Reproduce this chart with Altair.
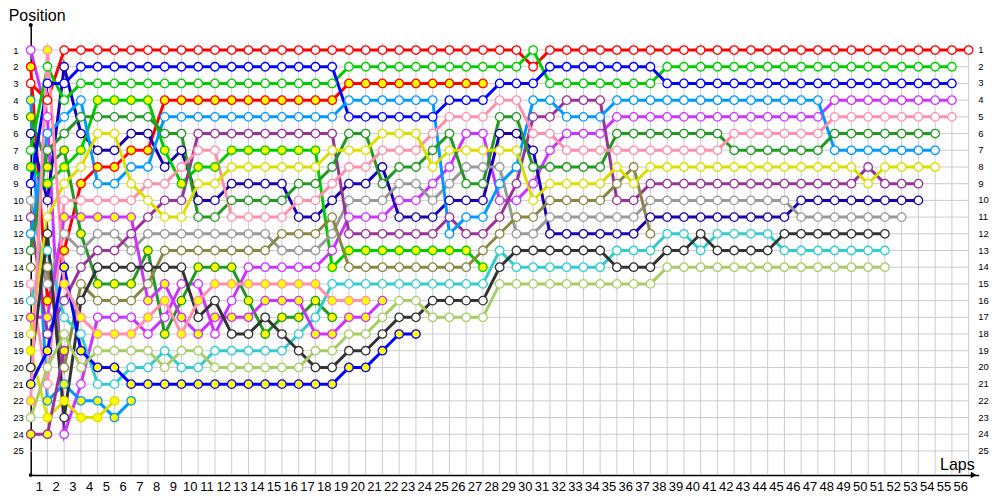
import altair as alt
import pandas as pd

# ---- drivers: id, line colour, marker fill ----
driver_ids = ["A", "B", "C", "D", "E", "F", "G", "H", "I", "J", "K", "L",
              "M", "N", "O", "P", "Q", "R", "S", "T", "U", "V", "W", "X"]
line_colors = ["#CC33FF", "#FF0000", "#FF0000", "#0099FF", "#229922", "#1A00B0",
               "#00CC00", "#00CC00", "#0000FF", "#999999", "#993399", "#0099FF",
               "#229922", "#888844", "#FF8FAB", "#33CCCC", "#CC33FF", "#DDDD00",
               "#DDDD00", "#333333", "#0000FF", "#FF8FAB", "#A8CC66", "#993399"]
marker_fill = ["w", "y", "w", "y", "y", "w", "w", "y", "w", "w", "w", "w",
               "w", "w", "w", "w", "y", "w", "y", "w", "y", "y", "w", "y"]

# ---- positions per lap (lap 0 = grid) ----
pos_A = [1, 5, 24, 21, 17, 17, 17, 18, 17, 15,
         15, 18, 16, 14, 14, 14, 14, 14, 13, 11,
         11, 11, 10, 10, 9, 8, 6, 6, 10, 10,
         9, 7, 6, 6, 6, 5, 5, 5, 5, 5,
         5, 5, 5, 5, 5, 5, 5, 5, 4, 4,
         4, 4, 4, 4, 4, 4]
pos_B = [2, 16, 13, 9, 8, 8, 7, 7, 4, 4,
         4, 4, 4, 4, 4, 4, 4, 4, 4, 3,
         3, 3, 3, 3, 3, 3, 3, 3]
pos_C = [3, 4] + [1] * 28 + [2] + [1] * 26
pos_D = [4, 22, 21, 22, 22, 23, 22]
pos_E = [5, 8, 7, 12, 15, 15, 15, 13, 18, 16,
         14, 14, 14, 16, 18, 17, 17, 16, 17]
pos_F = [6, 10, 2, 6, 7, 7, 6, 6, 8, 7,
         10, 10, 9, 9, 9, 9, 11, 11, 10, 9,
         9, 8, 11, 11, 11, 10, 10, 10, 6, 6,
         7, 12, 12, 12, 12, 12, 12, 11, 11, 11,
         11, 11, 11, 11, 11, 11, 10, 10, 10, 10,
         10, 10, 10, 10]
pos_G = [7, 2, 4] + [3] * 16 + [2] * 11 + [1] + [3] * 7 + [2] * 18
pos_H = [8, 9, 8, 7, 4, 4, 4, 4, 7, 9,
         8, 8, 7, 7, 7, 7, 7, 7, 14, 13,
         13, 13, 13, 13, 13, 13, 13, 14]
pos_I = [9, 3, 3] + [2] * 16 + [5] * 6 + [4] * 3 + [3] * 3 + [2] * 7 + [3] * 18
pos_J = [10, 15, 12, 13, 12, 12, 13, 12, 12, 12,
         12, 12, 12, 12, 12, 13, 13, 13, 12, 10,
         10, 10, 9, 9, 10, 9, 8, 8, 8, 12,
         12, 11, 11, 11, 11, 11, 11, 10, 10, 10,
         10, 10, 10, 10, 10, 10, 11, 11, 11, 11,
         11, 11, 11]
pos_K = [11, 18, 16, 14, 13, 13, 12, 11, 10, 10,
         6, 6, 6, 6, 6, 6, 6, 6, 6, 12,
         12, 12, 12, 12, 12, 11, 12, 12, 11, 9,
         5, 5, 4, 4, 4, 10, 10, 9, 9, 9,
         9, 9, 9, 9, 9, 9, 9, 9, 9, 9,
         8, 9, 9, 9]
pos_L = [12, 6, 5, 4, 9, 9, 8, 8, 5, 5,
         5, 5, 5, 5, 5, 5, 5, 5, 5, 4,
         4, 4, 4, 4, 4, 12, 11, 11, 9, 8,
         4, 4, 5, 5, 5, 4, 4, 4, 4, 4,
         4, 4, 4, 4, 4, 4, 4, 4, 7, 7,
         7, 7, 7, 7, 7]
pos_M = [13, 7, 6, 5, 5, 5, 5, 5, 6, 6,
         11, 11, 10, 10, 10, 10, 9, 9, 8, 6,
         6, 9, 8, 8, 7, 6, 9, 9, 5, 5,
         8, 8, 8, 8, 8, 6, 6, 6, 6, 6,
         6, 6, 7, 7, 7, 7, 7, 7, 6, 6,
         6, 6, 6, 6, 6]
pos_N = [14, 14, 20, 15, 16, 16, 16, 15, 13, 13,
         13, 13, 13, 13, 13, 12, 12, 12, 11, 14,
         14, 14, 14, 14, 14, 14, 14, 13, 12, 11,
         11, 10, 10, 10, 10, 9, 8, 12]
pos_O = [15, 21, 10, 10, 10, 10, 10, 9, 9, 8,
         7, 7, 11, 11, 11, 11, 10, 10, 9, 8,
         8, 7, 7, 7, 6, 5, 5, 5, 4, 4,
         6, 6, 7, 7, 7, 7, 7, 7, 7, 7,
         7, 7, 6, 6, 6, 6, 6, 6, 5, 5,
         5, 5, 5, 5, 5, 5]
pos_P = [16, 13, 17, 18, 21, 21, 20, 20, 19, 20,
         20, 19, 19, 19, 19, 19, 18, 17, 15, 15,
         15, 15, 15, 15, 15, 15, 15, 15, 13, 14,
         14, 14, 14, 14, 14, 13, 13, 13, 12, 12,
         13, 12, 12, 12, 12, 13, 13, 13, 13, 13,
         13, 13]
pos_Q = [17, 17, 11, 11, 11, 11, 11, 16, 15, 17,
         18, 17, 17, 17, 16, 16, 16, 18, 18, 17,
         17, 16]
pos_R = [18, 11, 9, 8, 6, 6, 9, 10, 11, 11,
         9, 9, 8, 8, 8, 8, 8, 8, 7, 7,
         7, 6, 6, 6, 8, 7, 7, 7, 7, 7,
         10, 9, 9, 9, 9, 8, 9, 8, 8, 8,
         8, 8, 8, 8, 8, 8, 8, 8, 8, 8,
         9, 8, 8, 8, 8]
pos_S = [19, 23, 22, 23, 23, 22]
pos_T = [20, 12, 23, 16, 14, 14, 14, 14, 14, 14,
         17, 16, 18, 18, 17, 18, 19, 20, 20, 19,
         19, 18, 17, 17, 16, 16, 16, 16, 14, 13,
         13, 13, 13, 13, 13, 14, 14, 14, 13, 13,
         12, 13, 13, 13, 13, 12, 12, 12, 12, 12,
         12, 12]
pos_U = [21, 19, 14, 19, 20, 20, 21, 21, 21, 21,
         21, 21, 21, 21, 21, 21, 21, 21, 21, 20,
         20, 19, 18, 18]
pos_V = [22, 1, 15, 17, 18, 18, 18, 17, 16, 18,
         16, 15, 15, 15, 15, 15, 15, 15, 16, 16,
         16]
pos_W = [23, 20, 18, 20, 19, 19, 19, 19, 20, 19,
         19, 20, 20, 20, 20, 20, 20, 19, 19, 18,
         18, 17, 16, 16, 17, 17, 17, 17, 15, 15,
         15, 15, 15, 15, 15, 15, 15, 15] + [14] * 14
pos_X = [24, 24, 19]

all_pos = [pos_A, pos_B, pos_C, pos_D, pos_E, pos_F, pos_G, pos_H, pos_I, pos_J,
           pos_K, pos_L, pos_M, pos_N, pos_O, pos_P, pos_Q, pos_R, pos_S, pos_T,
           pos_U, pos_V, pos_W, pos_X]

lap_labels = list(range(1, 57))
position_labels = list(range(1, 26))

rows = []
for i, d in enumerate(driver_ids):
    for lap, p in enumerate(all_pos[i]):
        rows.append({"driver": d, "lap": lap, "pos": p, "fillc": marker_fill[i],
                     "order": i})
df = pd.DataFrame(rows)

X_MAX = 56.6
Y_MIN, Y_MAX = -0.5, 26.44
W, H = 948, 450

xs = alt.Scale(domain=[0, X_MAX], nice=False, zero=False)
ys = alt.Scale(domain=[Y_MIN, Y_MAX], reverse=True, nice=False, zero=False)
col_scale = alt.Scale(domain=driver_ids, range=line_colors)
fill_scale = alt.Scale(domain=["w", "y"], range=["#FFFFFF", "#FFFF00"])

x_axis = alt.Axis(values=lap_labels, title="", grid=False, ticks=False, tickSize=0,
                  domainColor="black", domainWidth=1.5, labelFontSize=13,
                  labelFont="Liberation Sans", labelColor="black", labelOffset=-8.5,
                  labelPadding=6, labelFlush=False, labelOverlap=False)
y_axis = alt.Axis(values=position_labels, title="", grid=False, ticks=False, tickSize=0,
                  domainColor="black", domainWidth=1.5, labelFontSize=9.5,
                  labelFont="Liberation Sans", labelColor="black", labelAlign="left",
                  labelPadding=18, labelBaseline="middle")

vgrid_df = pd.DataFrame({"lap": lap_labels, "y0": [0.58] * 56, "y1": [Y_MAX] * 56})
hgrid_df = pd.DataFrame({"pos": position_labels, "x0": [0] * 25, "x1": [56] * 25})

vgrid = alt.Chart(vgrid_df).mark_rule(color="#CCCCCC", strokeWidth=1).encode(
    x=alt.X("lap:Q", scale=xs, axis=x_axis),
    y=alt.Y("y0:Q", scale=ys, axis=y_axis),
    y2="y1:Q",
)
hgrid = alt.Chart(hgrid_df).mark_rule(color="#CCCCCC", strokeWidth=1).encode(
    y=alt.Y("pos:Q", scale=ys, axis=y_axis),
    x=alt.X("x0:Q", scale=xs, axis=x_axis),
    x2="x1:Q",
)

lines = alt.Chart(df).mark_line(strokeWidth=3, strokeJoin="miter", strokeMiterLimit=10).encode(
    x=alt.X("lap:Q", scale=xs, axis=x_axis),
    y=alt.Y("pos:Q", scale=ys, axis=y_axis),
    color=alt.Color("driver:N", scale=col_scale),
    detail="driver:N",
    order="lap:Q",
)
points = alt.Chart(df).mark_point(shape="circle", size=72, strokeWidth=1.3, filled=True,
                                  opacity=1).encode(
    x=alt.X("lap:Q", scale=xs, axis=x_axis),
    y=alt.Y("pos:Q", scale=ys, axis=y_axis),
    fill=alt.Fill("fillc:N", scale=fill_scale),
    stroke=alt.Stroke("driver:N", scale=col_scale),
)

right_labels = alt.Chart(pd.DataFrame({"pos": position_labels})).mark_text(
    align="left", baseline="middle", fontSize=9.5, font="Liberation Sans", color="black"
).encode(
    y=alt.Y("pos:Q", scale=ys, axis=y_axis),
    x=alt.value(W - 0.5),
    text="pos:Q",
)

pos_title = alt.Chart(pd.DataFrame({"t": ["Position"]})).mark_text(
    align="left", baseline="alphabetic", fontSize=16, font="Liberation Sans", color="black"
).encode(x=alt.value(-22), y=alt.value(-4), text="t:N")

laps_title = alt.Chart(pd.DataFrame({"t": ["Laps"]})).mark_text(
    align="right", baseline="alphabetic", fontSize=16, font="Liberation Sans", color="black"
).encode(x=alt.value(944), y=alt.value(445), text="t:N")

arrow = alt.Chart(pd.DataFrame({"a": [1]})).mark_point(
    shape="triangle-right", filled=True, color="black", size=45, opacity=1
).encode(x=alt.value(943), y=alt.value(H))

dots = alt.Chart(pd.DataFrame({"a": [1, 2]})).mark_point(
    shape="circle", filled=True, color="black", size=14, opacity=1
).encode(x=alt.value(0), y=alt.value(0))
dot2 = alt.Chart(pd.DataFrame({"a": [1]})).mark_point(
    shape="circle", filled=True, color="black", size=14, opacity=1
).encode(x=alt.value(0), y=alt.value(H))

chart = alt.layer(vgrid, hgrid, lines, points, right_labels, pos_title, laps_title,
                  arrow, dots, dot2).properties(
    width=W, height=H,
    autosize=alt.AutoSizeParams(type="none"),
    padding={"left": 22.7, "top": 17, "right": 12, "bottom": 22},
).configure_view(strokeWidth=0).configure_legend(disable=True)

chart.save("out.html", embed_options={"renderer": "svg", "actions": False})
